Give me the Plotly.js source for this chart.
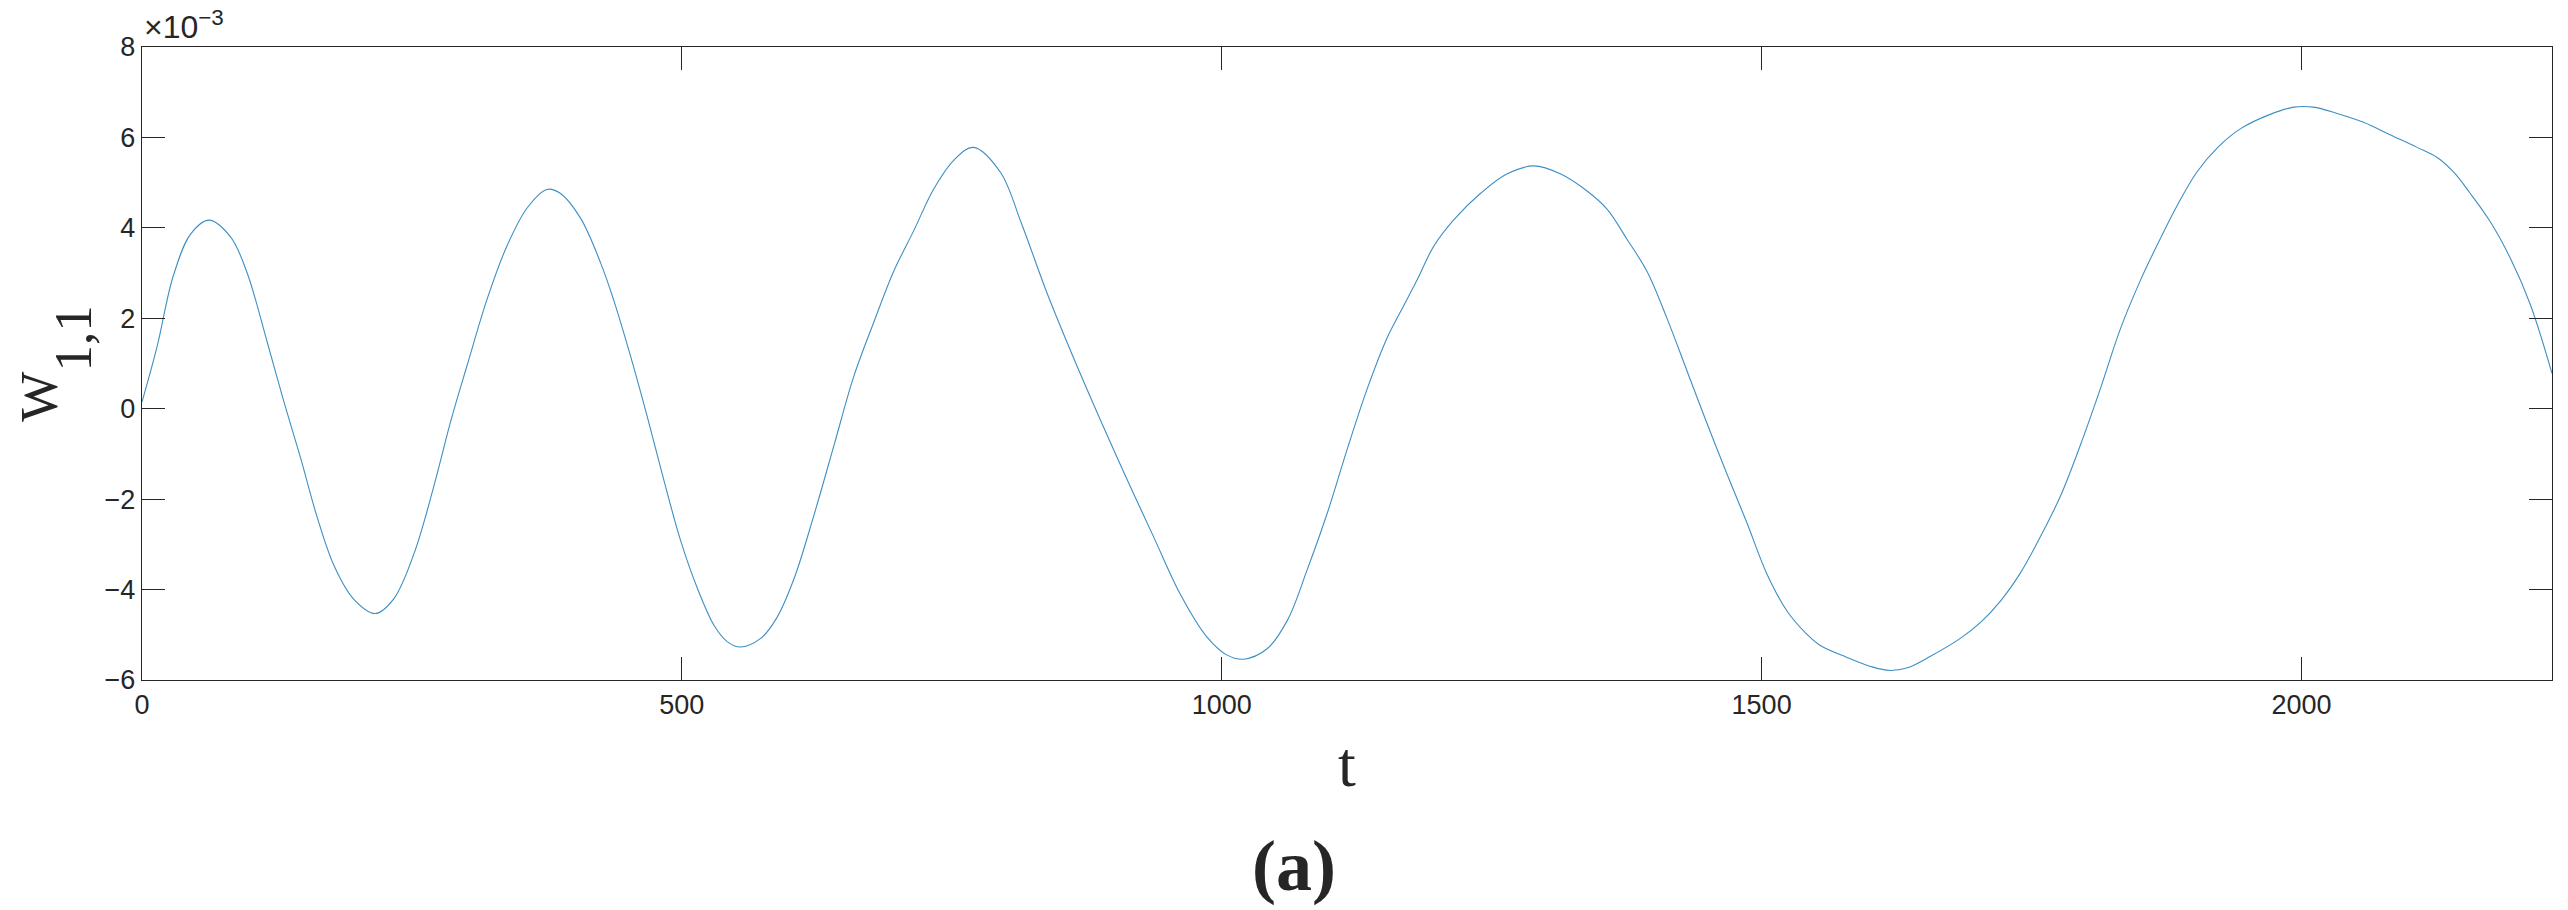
<!DOCTYPE html>
<html>
<head>
<meta charset="utf-8">
<script src="https://cdn.plot.ly/plotly-3.0.1.min.js"></script>
<style>
  body { margin: 0; background: #fff; }
  #chart { width: 2568px; height: 910px; }
</style>
</head>
<body>
<div id="chart"></div>
<script>
// time steps
var t = [0, 14, 29, 45, 62, 82, 97, 116, 131, 147, 162, 178, 196, 216, 233, 252, 270, 286, 301, 320,
  338, 357, 375, 387, 406, 425, 437, 452, 468, 483, 499, 514, 530, 542, 554, 573, 588, 604, 622, 641,
  659, 678, 696, 715, 733, 752, 770, 795, 814, 838, 863, 888, 912, 937, 962, 986, 1005, 1020, 1042, 1061,
  1079, 1098, 1116, 1135, 1153, 1165, 1181, 1196, 1215, 1240, 1264, 1289, 1314, 1338, 1357, 1375, 1394, 1412, 1431, 1449,
  1468, 1486, 1505, 1524, 1542, 1554, 1579, 1601, 1619, 1635, 1656, 1684, 1703, 1721, 1740, 1758, 1777, 1795, 1814, 1832,
  1851, 1869, 1885, 1903, 1922, 1944, 1971, 1993, 2011, 2033, 2058, 2082, 2107, 2126, 2141, 2156, 2175, 2194, 2212, 2232];

// W_{1,1} in units of 1e-3
var w11 = [0.15, 1.38, 2.94, 3.86, 4.17, 3.8, 3.03, 1.47, 0.19, -1.1, -2.38, -3.48, -4.21, -4.53, -4.21, -3.2, -1.74, -0.27, 0.95, 2.45,
  3.6, 4.45, 4.85, 4.77, 4.22, 3.21, 2.39, 1.2, -0.18, -1.55, -2.93, -3.95, -4.8, -5.15, -5.27, -5.08, -4.62, -3.75, -2.38, -0.8,
  0.7, 1.93, 3.03, 3.95, 4.85, 5.5, 5.78, 5.23, 4.13, 2.57, 1.11, -0.27, -1.55, -2.84, -4.12, -5.04, -5.45, -5.54, -5.31, -4.67,
  -3.57, -2.29, -0.91, 0.46, 1.56, 2.12, 2.85, 3.58, 4.18, 4.77, 5.19, 5.37, 5.19, 4.82, 4.41, 3.76, 3.03, 2.02, 0.83, -0.3,
  -1.45, -2.5, -3.66, -4.49, -4.99, -5.23, -5.5, -5.7, -5.79, -5.73, -5.48, -5.08, -4.72, -4.26, -3.62, -2.84, -1.92, -0.82, 0.46, 1.75,
  2.85, 3.75, 4.5, 5.23, 5.77, 6.2, 6.51, 6.67, 6.67, 6.53, 6.33, 6.06, 5.78, 5.55, 5.23, 4.77, 4.13, 3.3, 2.3, 0.78];

var xTicks = [0, 500, 1000, 1500, 2000];
var yTicks = [-6, -4, -2, 0, 2, 4, 6, 8];

var ink = '#262626';
var serif = 'Liberation Serif, Times New Roman, serif';
var tickFont = {family: 'Liberation Sans, Arial, sans-serif', size: 27, color: ink};

var trace = {
  x: t,
  y: w11,
  mode: 'lines',
  line: {color: '#3d8fc4', width: 1.1, shape: 'spline', smoothing: 1.0},
  hoverinfo: 'none'
};

var layout = {
  width: 2568,
  height: 910,
  margin: {l: 142, r: 16, t: 47, b: 230},
  paper_bgcolor: '#fff',
  plot_bgcolor: '#fff',
  showlegend: false,
  xaxis: {
    range: [0, 2232],
    tickvals: xTicks,
    ticks: 'inside', ticklen: 23, tickwidth: 1.2, tickcolor: ink,
    showline: true, linecolor: ink, linewidth: 1.2, mirror: 'ticks',
    showgrid: false, zeroline: false,
    tickfont: tickFont,
    title: {text: 't', font: {family: serif, size: 64, color: ink}, standoff: 22}
  },
  yaxis: {
    range: [-6, 8],
    tickvals: yTicks,
    ticks: 'inside', ticklen: 23, tickwidth: 1.2, tickcolor: ink,
    showline: true, linecolor: ink, linewidth: 1.2, mirror: 'ticks',
    showgrid: false, zeroline: false,
    tickfont: tickFont,
    title: {text: 'W<span style="baseline-shift:-34px">1,1</span>',
      font: {family: serif, size: 53, color: ink}, standoff: 30}
  },
  annotations: [
    {
      text: '×10<sup>−3</sup>', xref: 'paper', yref: 'paper', x: 0, y: 1,
      xanchor: 'left', yanchor: 'bottom', showarrow: false,
      font: {family: 'Liberation Sans, Arial, sans-serif', size: 32, color: ink}
    },
    {
      text: '<b>(a)</b>', xref: 'paper', yref: 'paper', x: 0.478, y: -0.294,
      xanchor: 'center', yanchor: 'middle', showarrow: false,
      font: {family: serif, size: 72, color: ink}
    }
  ]
};

Plotly.newPlot('chart', [trace], layout, {staticPlot: true});
</script>
</body>
</html>
